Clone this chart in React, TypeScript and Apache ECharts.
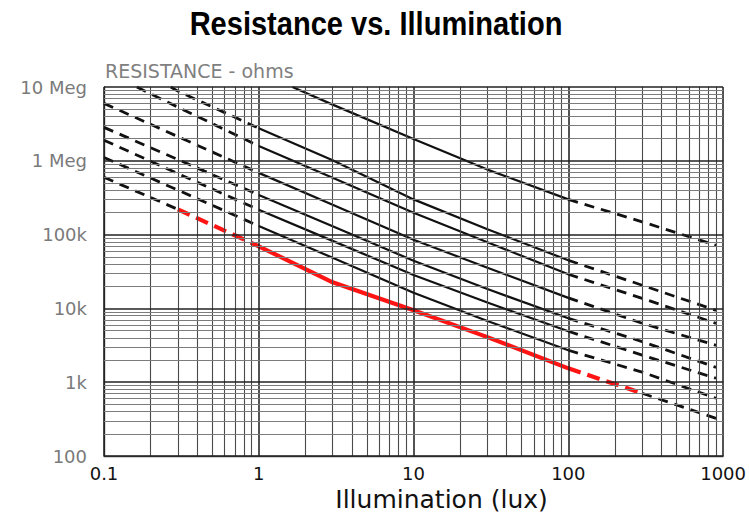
import React, { useEffect, useRef } from "react";
import * as echarts from "echarts";

// ---------- data (lux, ohms) ----------
const CURVE_T0: number[][] = [[1.65, 1e7], [3, 5.77e6], [10, 1.98e6], [30, 7.6e5], [100, 3.0e5], [300, 1.49e5], [900, 7.16e4]];
const CURVE_T2: number[][] = [[0.27, 1e7], [0.3, 8.8e6], [1, 2.76e6], [3, 1.02e6], [10, 3.0e5], [30, 1.18e5], [100, 4.49e4], [300, 2.06e4], [900, 9.4e3]];
const CURVE_T1: number[][] = [[0.163, 1e7], [0.3, 5.34e6], [1, 1.59e6], [3, 5.9e5], [10, 1.98e5], [30, 7.87e4], [100, 2.9e4], [300, 1.37e4], [900, 6.28e3]];
const CURVE_L1: number[][] = [[0.1, 6.0e6], [0.3, 2.13e6], [1, 6.86e5], [3, 2.54e5], [10, 8.53e4], [30, 3.55e4], [100, 1.39e4], [300, 6.28e3], [900, 3.16e3]];
const CURVE_L2: number[][] = [[0.1, 2.84e6], [0.3, 1.04e6], [1, 3.45e5], [3, 1.3e5], [10, 4.43e4], [30, 1.83e4], [100, 7.34e3], [300, 3.55e3], [900, 1.59e3]];
const CURVE_L3: number[][] = [[0.1, 1.9e6], [0.3, 6.71e5], [1, 2.17e5], [3, 8.22e4], [10, 2.84e4], [30, 1.2e4], [100, 4.9e3], [300, 2.33e3], [900, 1.13e3]];
const CURVE_L4: number[][] = [[0.1, 1.11e6], [0.3, 4.01e5], [1, 1.31e5], [3, 4.85e4], [10, 1.63e4], [30, 6.75e3], [100, 2.71e3], [300, 1.37e3], [900, 606]];
const CURVE_L5: number[][] = [[0.1, 5.97e5], [0.3, 2.2e5], [1, 6.94e4], [3, 2.26e4], [10, 9.42e3], [30, 4.08e3], [100, 1.54e3], [300, 708], [900, 324]];

const BLACK_CURVES = [CURVE_T0, CURVE_T2, CURVE_T1, CURVE_L1, CURVE_L2, CURVE_L3, CURVE_L4];
const HIGHLIGHT_CURVE = CURVE_L5;

const SOLID_RANGE = [1, 100];
const RED_RANGE = [0.3, 300];

const X_TICK_EXP = [-1, 0, 1, 2, 3];
const X_TICK_LABELS = ["0.1", "1", "10", "100", "1000"];
const Y_TICK_EXP = [2, 3, 4, 5, 6, 7];
const Y_TICK_LABELS = ["100", "1k", "10k", "100k", "1 Meg", "10 Meg"];

const GRID_MULTS = [1, 2, 3, 4, 5, 6, 7, 8, 9];
const X_DECADES = [-1, 0, 1, 2];
const Y_DECADES = [2, 3, 4, 5, 6];

const TITLE = "Resistance vs. Illumination";
const Y_UNIT = "RESISTANCE - ohms";
const X_NAME = "Illumination (lux)";

// ---------- helpers ----------
const EPS = 1e-9;
const seg = (pts: number[][], from: number, to: number) =>
  pts.filter((p) => p[0] >= from - EPS && p[0] <= to + EPS);

const gridValues = (decades: number[], lastExp: number) => {
  const out: number[] = [];
  decades.forEach((d) => GRID_MULTS.forEach((m) => out.push(m * Math.pow(10, d))));
  out.push(Math.pow(10, lastExp));
  return out;
};

const isDecade = (v: number) => Math.abs(Math.log10(v) - Math.round(Math.log10(v))) < 1e-6;

const BLACK = "#111111";
const RED = "#ff1414";

const dashedBlack = (data: number[][]) => ({
  type: "line",
  data,
  showSymbol: false,
  silent: true,
  z: 3,
  lineStyle: { color: BLACK, width: 2.8, type: [10, 7], cap: "butt" },
});
const solidBlack = (data: number[][]) => ({
  type: "line",
  data,
  showSymbol: false,
  silent: true,
  z: 3,
  lineStyle: { color: BLACK, width: 2.2, type: "solid" },
});
const redLine = (data: number[][], dashed: boolean) => ({
  type: "line",
  data,
  showSymbol: false,
  silent: true,
  z: 4,
  lineStyle: { color: RED, width: 4.2, type: dashed ? [13, 7] : "solid", cap: "butt" },
});

export default function App() {
  const ref = useRef<HTMLDivElement>(null);

  useEffect(() => {
    const chart = echarts.init(ref.current!, null, { renderer: "svg" });

    const series: any[] = [];

    // grid lines via markLine
    const xGrid = gridValues(X_DECADES, 3).map((v) => ({
      xAxis: v,
      lineStyle: { color: isDecade(v) ? "#1a1a1a" : "#4a4a4a", width: isDecade(v) ? 1.5 : 1.1, type: "solid" },
    }));
    const yGrid = gridValues(Y_DECADES, 7).map((v) => ({
      yAxis: v,
      lineStyle: { color: isDecade(v) ? "#222" : "#7c7c7c", width: isDecade(v) ? 1.5 : 1, type: "solid" },
    }));
    series.push({
      type: "line",
      data: [[0.1, 100]],
      showSymbol: false,
      silent: true,
      z: 1,
      lineStyle: { width: 0 },
      markLine: {
        silent: true,
        symbol: ["none", "none"],
        label: { show: false },
        animation: false,
        data: [...xGrid, ...yGrid],
      },
    });

    BLACK_CURVES.forEach((c) => {
      const start = Math.max(SOLID_RANGE[0], c[0][0]);
      const left = seg(c, -Infinity, start);
      const mid = seg(c, start, SOLID_RANGE[1]);
      const right = seg(c, SOLID_RANGE[1], Infinity);
      if (left.length > 1) series.push(dashedBlack(left));
      if (mid.length > 1) series.push(solidBlack(mid));
      if (right.length > 1) series.push(dashedBlack(right));
    });

    const h = HIGHLIGHT_CURVE;
    series.push(dashedBlack(seg(h, -Infinity, RED_RANGE[0])));
    series.push(dashedBlack(seg(h, RED_RANGE[1], Infinity)));
    series.push(redLine(seg(h, RED_RANGE[0], SOLID_RANGE[0]), true));
    series.push(redLine(seg(h, SOLID_RANGE[0], SOLID_RANGE[1]), false));
    series.push(redLine(seg(h, SOLID_RANGE[1], RED_RANGE[1]), true));

    chart.setOption({
      animation: false,
      backgroundColor: "#ffffff",
      graphic: [
        {
          type: "text",
          x: 376,
          y: 24,
          scaleX: 0.88,
          style: {
            text: TITLE,
            textAlign: "center",
            textVerticalAlign: "middle",
            align: "center",
            verticalAlign: "middle",
            fontFamily: "'Liberation Sans', Arial, sans-serif",
            fontWeight: "bold",
            fontSize: 33,
            fill: "#000",
          },
        },
        {
          type: "text",
          left: 105,
          top: 61,
          style: {
            text: Y_UNIT,
            fontFamily: "'DejaVu Sans'",
            fontSize: 19,
            fill: "#808080",
          },
        },
      ],
      grid: { left: 104, right: 24, top: 87, bottom: 67, containLabel: false },
      xAxis: {
        type: "log",
        logBase: 10,
        min: 0.1,
        max: 1000,
        axisLine: { show: true, lineStyle: { color: "#444", width: 1.4 } },
        axisTick: { show: false },
        splitLine: { show: false },
        axisLabel: {
          margin: 8,
          fontFamily: "'DejaVu Sans'",
          fontSize: 18,
          color: "#111",
          formatter: (v: number) => {
            const i = X_TICK_EXP.indexOf(Math.round(Math.log10(v)));
            return i >= 0 ? X_TICK_LABELS[i] : "";
          },
        },
        name: X_NAME,
        nameLocation: "middle",
        nameGap: 31,
        nameTextStyle: {
          fontFamily: "'DejaVu Sans'",
          fontSize: 25,
          color: "#111",
          padding: [0, 0, 0, 56],
        },
      },
      yAxis: {
        type: "log",
        logBase: 10,
        min: 100,
        max: 1e7,
        axisLine: { show: true, lineStyle: { color: "#444", width: 1.4 } },
        axisTick: { show: false },
        splitLine: { show: false },
        axisLabel: {
          margin: 17,
          fontFamily: "'DejaVu Sans'",
          fontSize: 18,
          color: "#7a7a7a",
          formatter: (v: number) => {
            const i = Y_TICK_EXP.indexOf(Math.round(Math.log10(v)));
            return i >= 0 ? Y_TICK_LABELS[i] : "";
          },
        },
      },
      series,
    });

    return () => chart.dispose();
  }, []);

  return (
    <div
      ref={ref}
      style={{ position: "fixed", left: 0, top: 0, width: 749, height: 523, background: "#fff" }}
    />
  );
}
